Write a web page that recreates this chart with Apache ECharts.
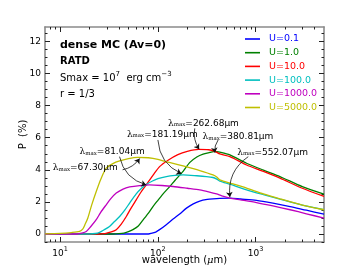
<!DOCTYPE html>
<html><head><meta charset="utf-8">
<script src="https://cdn.jsdelivr.net/npm/echarts@6.0.0/dist/echarts.min.js"></script>
<style>html,body{margin:0;padding:0;background:#fff}#c{width:360px;height:270px}</style>
</head><body><div id="c"></div>
<script>
// ---- data ----
const seriesNames = ['U=0.1','U=1.0','U=10.0','U=100.0','U=1000.0','U=5000.0'];
const seriesColors = ['#0000ff','#008000','#ff0000','#00bfbf','#bf00bf','#bfbf00'];

const wl_U0_1 = [7, 30, 60, 80, 85, 95, 104, 120, 143, 167, 196, 230, 268, 320, 366, 430, 545, 700, 1019, 1500, 2250, 3300, 5000];
const P_U0_1  = [0, 0, 0, 0, 0.03, 0.12, 0.27, 0.55, 0.93, 1.25, 1.61, 1.88, 2.05, 2.15, 2.19, 2.22, 2.24, 2.18, 2.09, 1.92, 1.71, 1.48, 1.24];

const wl_U1 = [7, 35, 40, 45, 50, 55.5, 63, 70, 80, 89, 100, 113, 132, 150, 181, 211, 250, 290, 340, 383, 430, 545, 807, 1200, 1770, 3000, 5000];
const P_U1  = [0, 0, 0.02, 0.06, 0.14, 0.27, 0.5, 0.85, 1.3, 1.71, 2.1, 2.5, 2.95, 3.35, 3.9, 4.45, 4.8, 4.98, 5.08, 5.15, 5.1, 4.93, 4.41, 3.98, 3.58, 2.95, 2.48];

const wl_U10 = [7, 25, 28, 30, 34, 37.5, 42, 47.5, 53, 60, 67, 76, 90, 104, 127, 160, 200, 262, 330, 383, 430, 545, 807, 1200, 1770, 3000, 5000];
const P_U10  = [0, 0, 0.02, 0.06, 0.15, 0.27, 0.6, 1.09, 1.6, 2.13, 2.6, 3.06, 3.7, 4.2, 4.6, 4.95, 5.15, 5.27, 5.25, 5.15, 4.99, 4.82, 4.3, 3.9, 3.48, 2.85, 2.34];

const wl_U100 = [7, 20, 23, 25.3, 28, 32, 36, 40.6, 46, 51.4, 60, 68, 76, 88, 100, 122, 150, 181, 250, 314, 366, 400, 430, 545, 807, 1200, 1770, 3000, 5000];
const P_U100  = [0, 0, 0.03, 0.1, 0.25, 0.47, 0.78, 1.09, 1.5, 1.93, 2.5, 2.85, 3.08, 3.3, 3.45, 3.58, 3.65, 3.68, 3.63, 3.58, 3.52, 3.42, 3.3, 3.1, 2.75, 2.45, 2.17, 1.8, 1.51];

const wl_U1000 = [7, 15, 16.5, 18.5, 20.5, 23.4, 26, 29.6, 33, 37.5, 44, 51.4, 65, 82, 110, 143, 200, 268, 330, 398, 450, 545, 700, 1019, 1500, 2250, 3300, 5000];
const P_U1000  = [0, 0, 0.05, 0.16, 0.45, 0.89, 1.35, 1.82, 2.2, 2.55, 2.8, 2.93, 3.02, 3.06, 3.02, 2.96, 2.85, 2.75, 2.63, 2.5, 2.38, 2.24, 2.13, 1.96, 1.75, 1.51, 1.26, 0.99];

const wl_U5000 = [7, 10, 13, 15.8, 17, 18, 19.2, 21, 23.4, 26, 29.6, 35, 40.6, 50, 62, 80, 100, 122, 143, 181, 268, 366, 400, 430, 588, 807, 1200, 1770, 3000, 5000];
const P_U5000  = [0.01, 0.04, 0.09, 0.16, 0.3, 0.6, 1.0, 1.8, 2.65, 3.4, 4.1, 4.4, 4.55, 4.7, 4.78, 4.75, 4.65, 4.5, 4.4, 4.24, 3.95, 3.68, 3.55, 3.37, 3.12, 2.86, 2.5, 2.19, 1.8, 1.51];

const xMajorTicks = [10, 100, 1000];
const xMinorTicks = [8, 9, 20, 30, 40, 50, 60, 70, 80, 90, 200, 300, 400, 500, 600, 700, 800, 900, 2000, 3000, 4000];
const yMajorTicks = [0, 2, 4, 6, 8, 10, 12];
const yMinorTicks = [-0.5, 0.5, 1, 1.5, 2.5, 3, 3.5, 4.5, 5, 5.5, 6.5, 7, 7.5, 8.5, 9, 9.5, 10.5, 11, 11.5, 12.5];

// annotations: lambda_max values, text anchor, arrow start, arrow target (data coords)
const annValues = ['67.30', '81.04', '181.19', '262.68', '380.81', '552.07'];
const annTextAt = [[8.4, 4.12], [15.8, 5.13], [48.2, 6.21], [127, 6.89], [286, 6.06], [647, 5.09]];
const annFrom   = [[43.5, 4.0], [40.5, 4.82], [100, 5.86], [238, 6.58], [413, 5.86], [840, 4.82]];
const annTo     = [[65, 4.7], [76, 3.06], [174, 3.76], [264, 5.28], [383, 5.07], [545, 2.3]];
const annCurve  = [-0.2, -0.3, -0.3, -0.2, -0.2, -0.3];

// ---- chart ----
const FONT = 'DejaVu Sans';
const XMIN = 7, XMAX = 5000, YMIN = -0.5, YMAX = 12.9;
const wls = [wl_U0_1, wl_U1, wl_U10, wl_U100, wl_U1000, wl_U5000];
const Ps  = [P_U0_1, P_U1, P_U10, P_U100, P_U1000, P_U5000];

const frame = {show: true, onZero: false, lineStyle: {color: '#8a8a8a', width: 1.6}};
const noLine = {show: false, onZero: false};
function xAx(pos, values, len, labels, line) {
  return {
    type: 'log', logBase: 10, min: XMIN, max: XMAX, position: pos,
    axisLine: line ? frame : noLine,
    axisTick: {show: true, inside: true, length: len, customValues: values, lineStyle: {color: '#222', width: 1}},
    axisLabel: labels ? {
      show: true, customValues: values, margin: 4,
      formatter: v => '{b|10}{s|' + Math.round(Math.log10(v)) + '}',
      rich: {b: {fontFamily: FONT, fontSize: 9, color: '#000', padding: [3, 0, 0, 0]},
             s: {fontFamily: FONT, fontSize: 6.5, color: '#000', verticalAlign: 'top'}}
    } : {show: false},
    splitLine: {show: false}
  };
}
function yAx(pos, values, len, labels, line) {
  return {
    type: 'value', min: YMIN, max: YMAX, position: pos,
    axisLine: line ? frame : noLine,
    axisTick: {show: true, inside: true, length: len, customValues: values, lineStyle: {color: '#222', width: 1}},
    axisLabel: labels ? {show: true, customValues: values, margin: 4, fontFamily: FONT, fontSize: 9, color: '#000'} : {show: false},
    splitLine: {show: false}
  };
}

const xAxes = [xAx('bottom', xMajorTicks, 5, true, true), xAx('bottom', xMinorTicks, 2.5, false, false),
               xAx('top', xMajorTicks, 5, false, true), xAx('top', xMinorTicks, 2.5, false, false)];
xAxes[0].name = 'wavelength ({m|μ}m)';
xAxes[0].nameLocation = 'middle';
xAxes[0].nameGap = 13;
xAxes[0].nameMoveOverlap = false;
xAxes[0].nameTextStyle = {fontFamily: FONT, fontSize: 10, color: '#000', verticalAlign: 'top',
  rich: {m: {fontFamily: 'DejaVu Serif', fontStyle: 'italic', fontSize: 10, color: '#000'}}};

const yAxes = [yAx('left', yMajorTicks, 5, true, true), yAx('left', yMinorTicks, 2.5, false, false),
               yAx('right', yMajorTicks, 5, false, true), yAx('right', yMinorTicks, 2.5, false, false)];
yAxes[0].name = 'P  (%)';
yAxes[0].nameLocation = 'middle';
yAxes[0].nameGap = 17;
yAxes[0].nameRotate = 90;
yAxes[0].nameMoveOverlap = false;
yAxes[0].nameTextStyle = {fontFamily: FONT, fontSize: 10, color: '#000'};

const series = seriesNames.map((n, i) => ({
  name: n, type: 'line', xAxisIndex: 0, yAxisIndex: 0,
  data: wls[i].map((w, k) => [w, Ps[i][k]]),
  showSymbol: false, symbol: 'none', smooth: 0.25,
  lineStyle: {color: seriesColors[i], width: 1.3}, itemStyle: {color: seriesColors[i]},
  silent: true, animation: false, z: 3
}));

// curved arrows
series.push({
  name: 'arrows', type: 'lines', coordinateSystem: 'cartesian2d', xAxisIndex: 0, yAxisIndex: 0,
  silent: true, animation: false, z: 6,
  symbol: ['none', 'arrow'], symbolSize: 5,
  lineStyle: {color: '#111', width: 0.8, opacity: 1},
  data: annFrom.map((f, i) => ({coords: [f, annTo[i]], lineStyle: {curveness: annCurve[i]}}))
});

// annotation text
series.push({
  name: 'annotations', type: 'line', xAxisIndex: 0, yAxisIndex: 0, data: [], animation: false, z: 5,
  markPoint: {
    silent: true, animation: false, symbol: 'circle', symbolSize: 0,
    data: annTextAt.map((t, i) => ({
      coord: t,
      label: {show: true, position: 'right', distance: 0,
        formatter: '{l|λ}{s|max}{t|=' + annValues[i] + 'μm}',
        rich: {l: {fontFamily: 'DejaVu Serif', fontSize: 9, color: '#000'},
               s: {fontFamily: 'DejaVu Serif', fontSize: 5.5, color: '#000', verticalAlign: 'bottom'},
               t: {fontFamily: FONT, fontSize: 9, color: '#000'}}}
    }))
  }
});

const chart = echarts.init(document.getElementById('c'), null, {renderer: 'canvas'});
chart.setOption({
  animation: false,
  backgroundColor: '#fff',
  grid: {left: 45, right: 36, top: 27, bottom: 28, containLabel: false, outerBoundsMode: 'none'},
  xAxis: xAxes,
  yAxis: yAxes,
  legend: {
    show: true, orient: 'vertical', left: 245, top: 33.5, padding: 0,
    itemWidth: 15, itemHeight: 1.6, itemGap: 2.7, icon: 'rect',
    data: seriesNames.map((n, i) => ({name: n, textStyle: {color: seriesColors[i]}})),
    textStyle: {fontFamily: FONT, fontSize: 9.5, lineHeight: 11, padding: [0, 0, 0, 4]},
    selectedMode: false
  },
  graphic: [
    {type: 'text', x: 60, y: 45, style: {text: 'dense MC (Av=0)', font: 'bold 11px "DejaVu Sans"', fill: '#000', verticalAlign: 'middle'}},
    {type: 'text', x: 60, y: 61, style: {text: 'RATD', font: 'bold 10px "DejaVu Sans"', fill: '#000', verticalAlign: 'middle'}},
    {type: 'text', x: 60, y: 77, style: {
      text: '{n|Smax = 10}{p|7}{n|  erg cm}{p|−3}', verticalAlign: 'middle',
      rich: {n: {fontFamily: FONT, fontSize: 10, fill: '#000', color: '#000', padding: [3, 0, 0, 0]},
             p: {fontFamily: FONT, fontSize: 7, fill: '#000', color: '#000', verticalAlign: 'top'}}}},
    {type: 'text', x: 60, y: 94, style: {text: 'r = 1/3', font: '10px "DejaVu Sans"', fill: '#000', verticalAlign: 'middle'}}
  ],
  series: series
});
</script>
</body></html>
